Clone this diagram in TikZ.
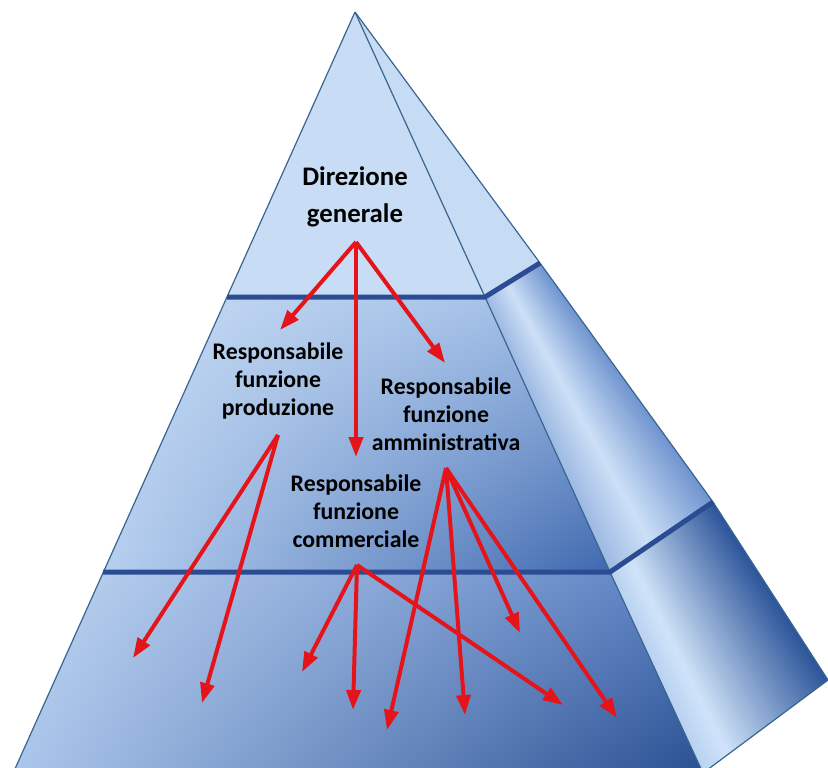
\documentclass[tikz,border=0pt]{standalone}
\usepackage{fontspec}
\setmainfont{Carlito}
\usetikzlibrary{arrows.meta,positioning,shadings,calc}
\usepackage{xcolor}
\definecolor{bordo}{HTML}{3A6590}
\definecolor{fascia}{HTML}{2B4C92}
\definecolor{rosso}{HTML}{E5141B}
\definecolor{chiaro}{HTML}{C8DDF5}
\definecolor{medioA}{HTML}{9DBBE5}
\definecolor{medioB}{HTML}{B7D0F0}
\definecolor{scuroA}{HTML}{3F68AE}
\definecolor{bassoA}{HTML}{C2D8F3}
\definecolor{bassoB}{HTML}{5A80C2}
\definecolor{bassoC}{HTML}{AAC6EC}
\definecolor{bassoD}{HTML}{24498C}
\definecolor{latoA}{HTML}{C6DBF4}
\definecolor{latoB}{HTML}{9DB9E2}
\definecolor{latoC}{HTML}{CDE0F7}
\definecolor{latoD}{HTML}{6F94CF}
\definecolor{latoE}{HTML}{D0E3F9}
\definecolor{latoF}{HTML}{2C5499}
\definecolor{latoG}{HTML}{B9D2F1}

\begin{document}
\begin{tikzpicture}[x=0.5pt,y=-0.5pt,
	freccia/.style={draw=rosso,line width=2pt,-{Triangle[length=10pt,width=7pt]}},
	etichetta/.style={font=\bfseries\fontsize{11.9}{14}\selectfont,align=center,inner sep=0pt},
	bordi/.style={draw=bordo,line width=0.6pt},
	livello/.style={draw=fascia,line width=2.5pt}]
	
	\useasboundingbox (0,0) rectangle (828,767);
	\clip (0,0) rectangle (828,767);
	
	% Vertici
	\coordinate (apice) at (355,12);
	\coordinate (sx1) at (227,297);
	\coordinate (sx2) at (103,572);
	\coordinate (sx3) at (1,800);
	\coordinate (in1) at (485,297);
	\coordinate (in2) at (610,572);
	\coordinate (in3) at (703,773);
	\coordinate (es1) at (540,263);
	\coordinate (es2) at (713,502);
	\coordinate (es3) at (828,680);
	
	% Facce frontali
	\fill[chiaro] (apice) -- (in1) -- (sx1) -- cycle;
	\shade[upper left=chiaro,upper right=medioA,lower left=medioB,lower right=scuroA]
		(sx1) -- (in1) -- (in2) -- (sx2) -- cycle;
	\shade[upper left=bassoA,upper right=bassoB,lower left=bassoC,lower right=bassoD]
		(sx2) -- (in2) -- (in3) -- (703,800) -- (sx3) -- cycle;
	
	% Faccia laterale
	\fill[latoA] (apice) -- (es1) -- (in1) -- cycle;
	\begin{scope}
		\clip (in1) -- (es1) -- (es2) -- (in2) -- cycle;
		\foreach \i in {0,...,39} {
			\pgfmathsetmacro{\ta}{\i/40}
			\pgfmathsetmacro{\tb}{(\i+1.5)/40}
			\pgfmathsetmacro{\t}{(\i+0.5)/40}
			\ifdim\t pt<0.4pt
				\pgfmathsetmacro{\p}{\t/0.4*100}
				\colorlet{tinta}{latoC!\p!latoB}
			\else
				\pgfmathsetmacro{\p}{(\t-0.4)/0.6*100}
				\colorlet{tinta}{latoD!\p!latoC}
			\fi
			\fill[tinta] ($(in1)!\ta!(es1)$) -- ($(in1)!\tb!(es1)$) -- ($(in2)!\tb!(es2)$) -- ($(in2)!\ta!(es2)$) -- cycle;
		}
	\end{scope}
	\begin{scope}
		\clip (in2) -- (es2) -- (es3) -- (in3) -- cycle;
		\foreach \i in {0,...,39} {
			\pgfmathsetmacro{\ta}{\i/40}
			\pgfmathsetmacro{\tb}{(\i+1.5)/40}
			\pgfmathsetmacro{\t}{(\i+0.5)/40}
			\ifdim\t pt<0.2pt
				\pgfmathsetmacro{\p}{\t/0.2*100}
				\colorlet{tinta}{latoE!\p!latoG}
			\else
				\pgfmathsetmacro{\p}{(\t-0.2)/0.8*100}
				\colorlet{tinta}{latoF!\p!latoE}
			\fi
			\fill[tinta] ($(in2)!\ta!(es2)$) -- ($(in2)!\tb!(es2)$) -- ($(in3)!\tb!(es3)$) -- ($(in3)!\ta!(es3)$) -- cycle;
		}
	\end{scope}
	
	% Spigoli
	\draw[bordi] (apice) -- (sx3);
	\draw[bordi] (apice) -- (in1) -- (in2) -- (in3);
	\draw[bordi] (apice) -- (es1) -- (es2) -- (es3) -- (in3);
	
	% Livelli
	\draw[livello] (sx1) -- (in1) -- (es1);
	\draw[livello] (sx2) -- (in2) -- (es2);
	
	% Etichette
	\node[etichetta,font=\bfseries\fontsize{13.4}{18.5}\selectfont] (dir) at (355,197) {Direzione\\generale};
	\node[etichetta] (prod) at (278,381) {Responsabile\\funzione\\produzione};
	\node[etichetta] (amm) at (446,414) {Responsabile\\funzione\\amministrativa};
	\node[etichetta] (comm) at (356,511) {Responsabile\\funzione\\commerciale};
	
	% Punti di partenza e di arrivo
	\coordinate (dir-out) at (356,242);
	\coordinate (prod-out) at (278,435);
	\coordinate (amm-out) at (446,468);
	\coordinate (comm-out) at (357,565);
	\coordinate (prod-in) at (280,330);
	\coordinate (comm-in) at (356,457);
	\coordinate (amm-in) at (445,363);
	\coordinate (p1) at (133,658);
	\coordinate (p2) at (202,703);
	\coordinate (c1) at (302,672);
	\coordinate (c2) at (353,710);
	\coordinate (c3) at (563,705);
	\coordinate (a1) at (387,730);
	\coordinate (a2) at (465,715);
	\coordinate (a3) at (520,633);
	\coordinate (a4) at (617,718);
	
	% Frecce
	\foreach \da/\a in {dir-out/prod-in,dir-out/comm-in,dir-out/amm-in,
		prod-out/p1,prod-out/p2,comm-out/c1,comm-out/c2,comm-out/c3,
		amm-out/a1,amm-out/a2,amm-out/a3,amm-out/a4} {
		\draw[freccia] (\da) -- (\a);
	}
	
\end{tikzpicture}
\end{document}
